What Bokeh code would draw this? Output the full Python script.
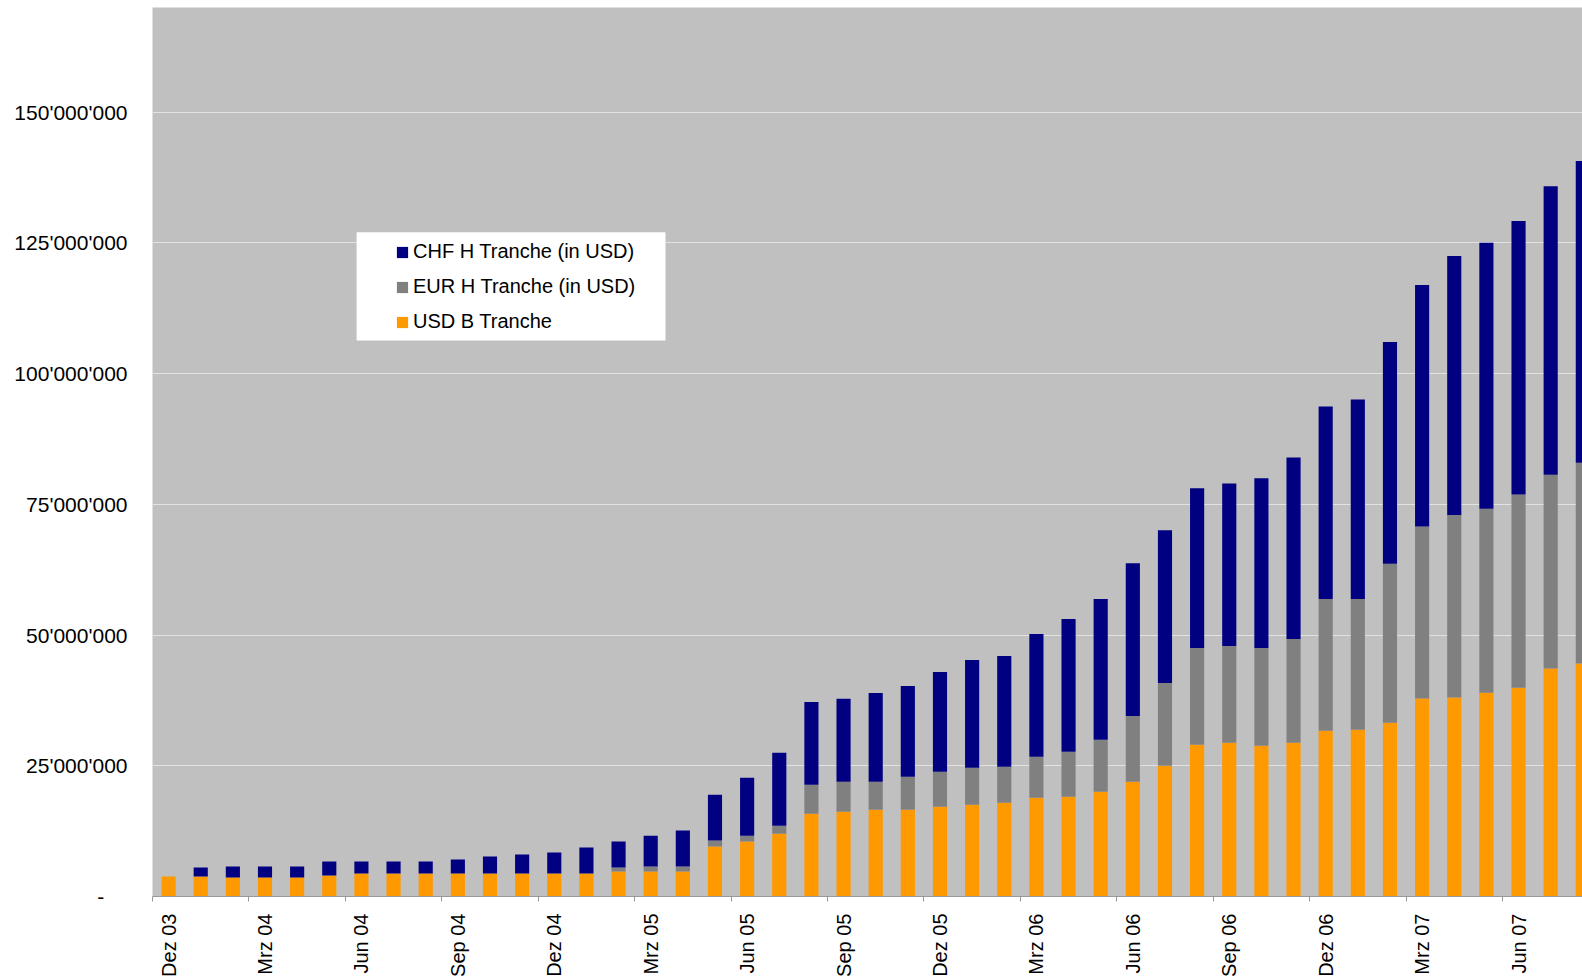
import math
from bokeh.plotting import figure
from bokeh.models import (ColumnDataSource, Range1d, FixedTicker, Legend, LegendItem,
                          BoxAnnotation)
from bokeh.embed import file_html
from bokeh.resources import INLINE

# Monthly categories (Dez 03 .. Aug 07)
months = [
    "Dez 03",
    "Jan 04", "Feb 04", "Mrz 04", "Apr 04", "Mai 04", "Jun 04",
    "Jul 04", "Aug 04", "Sep 04", "Okt 04", "Nov 04", "Dez 04",
    "Jan 05", "Feb 05", "Mrz 05", "Apr 05", "Mai 05", "Jun 05",
    "Jul 05", "Aug 05", "Sep 05", "Okt 05", "Nov 05", "Dez 05",
    "Jan 06", "Feb 06", "Mrz 06", "Apr 06", "Mai 06", "Jun 06",
    "Jul 06", "Aug 06", "Sep 06", "Okt 06", "Nov 06", "Dez 06",
    "Jan 07", "Feb 07", "Mrz 07", "Apr 07", "Mai 07", "Jun 07",
    "Jul 07", "Aug 07",
]

# Series values in millions USD (stack segments)
usd_b_mio = [3.82, 3.82, 3.63, 3.63, 3.63, 4.01, 4.40, 4.40, 4.40, 4.40, 4.40, 4.40,
             4.40, 4.40, 4.78, 4.77, 4.77, 9.54, 10.50, 12.02, 15.84, 16.22, 16.60,
             16.60, 17.18, 17.56, 17.94, 18.89, 19.08, 20.04, 21.95, 25.00, 29.00,
             29.39, 28.82, 29.39, 31.68, 31.87, 33.24, 37.87, 38.06, 38.98, 39.91,
             43.61, 44.54]
eur_h_mio = [0, 0, 0, 0, 0, 0, 0, 0, 0, 0, 0, 0,
             0, 0, 0.76, 0.96, 0.96, 1.15, 1.14, 1.53, 5.53, 5.73, 5.35,
             6.30, 6.67, 7.06, 6.87, 7.83, 8.59, 9.92, 12.59, 15.84, 18.52,
             18.51, 18.70, 19.85, 25.19, 25.00, 30.37, 32.87, 34.90, 35.19, 36.94,
             37.04, 38.42]
chf_h_mio = [0, 1.72, 2.10, 2.10, 2.10, 2.68, 2.29, 2.29, 2.29, 2.67, 3.24, 3.63,
             4.01, 4.96, 4.97, 5.91, 6.87, 8.78, 11.06, 13.95, 15.83, 15.85, 16.98,
             17.37, 19.09, 20.61, 21.18, 23.47, 25.38, 26.91, 29.20, 29.20, 30.53,
             31.10, 32.44, 34.73, 36.83, 38.17, 42.41, 46.20, 49.54, 50.83, 52.32,
             55.18, 57.69]

series_names = ["CHF H Tranche (in USD)", "EUR H Tranche (in USD)", "USD B Tranche"]

y_ticks = [0, 25000000, 50000000, 75000000, 100000000, 125000000, 150000000]
y_tick_labels = ["-\u00a0\u00a0\u00a0\u00a0", "25'000'000", "50'000'000", "75'000'000",
                 "100'000'000", "125'000'000", "150'000'000"]

idx = list(range(len(months)))
source = ColumnDataSource(dict(
    x=idx,
    month=months,
    usd=[v * 1e6 for v in usd_b_mio],
    eur=[v * 1e6 for v in eur_h_mio],
    chf=[v * 1e6 for v in chf_h_mio],
))

FONT = "Liberation Sans"

p = figure(width=1582, height=979,
           x_range=Range1d(-0.5, 43.99), y_range=Range1d(0, 170e6),
           output_backend="svg", toolbar_location=None,
           min_border_left=152, min_border_right=0, min_border_top=7, min_border_bottom=0,
           background_fill_color="#c0c0c0", border_fill_color="white",
           outline_line_color=None)

rs = p.vbar_stack(["usd", "eur", "chf"], x="x", width=0.44,
                  fill_color=["#ff9900", "#808080", "#000080"],
                  line_color=None, source=source)

# X axis: labels at every third month, tick marks between categories
xax = p.xaxis[0]
lab_idx = idx[::3]
xax.ticker = FixedTicker(ticks=lab_idx, minor_ticks=[i - 0.5 for i in lab_idx])
xax.major_label_overrides = {i: months[i] for i in lab_idx}
xax.major_label_orientation = math.pi / 2
xax.major_tick_out = 0
xax.major_tick_in = 0
xax.minor_tick_out = 5
xax.minor_tick_in = 0
xax.minor_tick_line_color = "#999999"
xax.axis_line_color = "#999999"
xax.major_label_standoff = 12
xax.major_label_text_font = FONT
xax.major_label_text_font_size = "20px"
xax.major_label_text_color = "black"

# Y axis
yax = p.yaxis[0]
yax.ticker = FixedTicker(ticks=y_ticks)
yax.major_label_overrides = dict(zip(y_ticks, y_tick_labels))
yax.axis_line_color = None
yax.major_tick_line_color = None
yax.minor_tick_line_color = None
yax.major_tick_out = 0
yax.major_label_standoff = 25
yax.major_label_text_font = FONT
yax.major_label_text_font_size = "21px"
yax.major_label_text_color = "black"

p.xgrid.grid_line_color = None
p.ygrid.grid_line_color = "#e2e2e2"
p.ygrid.grid_line_width = 1

# white legend panel
p.add_layout(BoxAnnotation(left=5.85, right=15.46, bottom=106.3e6, top=127.0e6,
                           fill_color="white", fill_alpha=1.0, line_color=None,
                           level="overlay"))

legend = Legend(items=[LegendItem(label=series_names[0], renderers=[rs[2]]),
                       LegendItem(label=series_names[1], renderers=[rs[1]]),
                       LegendItem(label=series_names[2], renderers=[rs[0]])],
                location=(243, 563), padding=0, spacing=12,
                glyph_width=14, glyph_height=14, label_standoff=4,
                label_text_font=FONT, label_text_font_size="20px",
                label_text_color="black",
                background_fill_alpha=0.0,
                border_line_color=None, margin=0)
p.add_layout(legend)

open("out.html", "w").write(file_html(p, INLINE))
